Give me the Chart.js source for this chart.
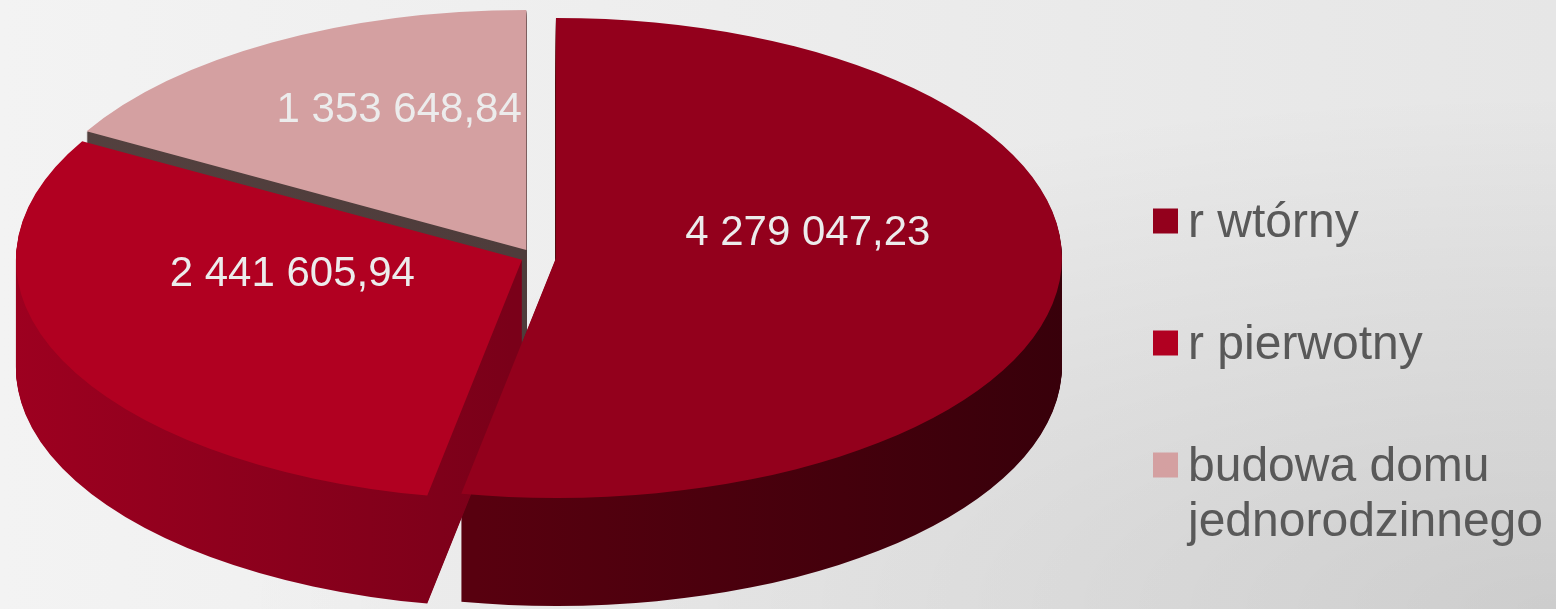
<!DOCTYPE html>
<html><head><meta charset="utf-8">
<script src="https://cdn.jsdelivr.net/npm/chart.js@4.4.1/dist/chart.umd.min.js"></script>
<style>
html,body{margin:0;padding:0;width:1556px;height:609px;overflow:hidden;
background:
 radial-gradient(ellipse farthest-corner at 100% 100%, rgba(0,0,0,0.11) 0%, rgba(0,0,0,0) 60%),
 linear-gradient(to right, #f3f3f3, #e6e6e6);}
#wrap{position:relative;width:1556px;height:609px;}
canvas{display:block;}
</style></head><body>
<div id="wrap"><canvas id="c" width="1556" height="609"></canvas></div>
<script>
// ---- data ----
const categories = ['r wtórny', 'r pierwotny', 'budowa domu jednorodzinnego'];
const values = [4279047.23, 2441605.94, 1353648.84];

// ---- style ----
const topColors = ['#93001c', '#b10021', '#d4a0a1'];
const wallLeft  = ['#58000f', '#9e0020', '#54413f'];
const wallRight = ['#37000a', '#7a0019', '#4e3c3b'];
const explodeDist = [10.4, 7.1, 8.5];      // chart units, along each slice's mid angle
const wallOrder = [2, 0, 1];               // back to front
const VIEW = {cx: 535, cy: 257, rx: 506, ry: 240, depth: 108, labelLift: 36};
const R = 250;

function fmtPL(v) {
  const parts = v.toFixed(2).split('.');
  return parts[0].replace(/\B(?=(\d{3})+(?!\d))/g, ' ') + ',' + parts[1];
}

const pie3d = {
  id: 'pie3d',
  beforeDatasetsDraw(chart) {
    const ctx = chart.ctx;
    const meta = chart.getDatasetMeta(0);
    const el0 = meta.data[0];
    const Rr = el0.outerRadius;
    const sx = VIEW.rx / Rr, sy = VIEW.ry / Rr;
    const toChartX = X => el0.x + (X - VIEW.cx) / sx;
    const shiftOf = i => {
      const el = meta.data[i];
      const mid = (el.startAngle + el.endAngle) / 2;
      return [Math.cos(mid) * explodeDist[i], Math.sin(mid) * explodeDist[i]];
    };
    ctx.save();
    ctx.translate(VIEW.cx, VIEW.cy);
    ctx.scale(sx, sy);
    ctx.translate(-el0.x, -el0.y);
    // walls (extrusion)
    wallOrder.forEach(i => {
      const el = meta.data[i];
      const saved = el.options;
      const g = ctx.createLinearGradient(toChartX(i === 0 ? 455 : 15), 0, toChartX(i === 0 ? 1062 : 525), 0);
      g.addColorStop(0, wallLeft[i]);
      g.addColorStop(1, wallRight[i]);
      el.options = Object.assign({}, saved, {backgroundColor: g, borderWidth: 0, offset: 0});
      const [dx, dy] = shiftOf(i);
      for (let d = VIEW.depth; d >= 1; d--) {
        ctx.save();
        ctx.translate(dx, dy + d / sy);
        el.draw(ctx);
        ctx.restore();
      }
      el.options = saved;
    });
    // top faces
    meta.data.forEach((el, i) => {
      const [dx, dy] = shiftOf(i);
      ctx.save();
      ctx.translate(dx, dy);
      el.draw(ctx);
      ctx.restore();
    });
    ctx.restore();
    // value labels
    ctx.save();
    ctx.font = '42px "Liberation Sans", Arial, sans-serif';
    ctx.fillStyle = '#ececec';
    ctx.textAlign = 'center';
    ctx.textBaseline = 'middle';
    meta.data.forEach((el, i) => {
      const mid = (el.startAngle + el.endAngle) / 2;
      const [dx, dy] = shiftOf(i);
      const px = el.x + dx + Math.cos(mid) * Rr * 0.5;
      const py = el.y + dy + Math.sin(mid) * Rr * 0.5;
      const X = VIEW.cx + (px - el0.x) * sx;
      const Y = VIEW.cy + (py - el0.y) * sy - VIEW.labelLift;
      ctx.fillText(fmtPL(chart.data.datasets[0].data[i]), X, Y);
    });
    ctx.restore();
    return false;
  },
  afterDraw(chart) {
    const ctx = chart.ctx;
    const labels = chart.data.labels;
    const colors = chart.data.datasets[0].backgroundColor;
    const boxX = 1153, box = 25, textX = 1188, firstY = 221, step = 122, lineH = 55, maxW = 365;
    ctx.save();
    ctx.font = '48px "Liberation Sans", Arial, sans-serif';
    ctx.textAlign = 'left';
    ctx.textBaseline = 'alphabetic';
    let y = firstY;
    labels.forEach((lab, i) => {
      ctx.fillStyle = colors[i];
      ctx.fillRect(boxX, y - box / 2, box, box);
      const words = lab.split(' ');
      const lines = [];
      let cur = '';
      words.forEach(w => {
        const t = cur ? cur + ' ' + w : w;
        if (ctx.measureText(t).width > maxW && cur) { lines.push(cur); cur = w; } else cur = t;
      });
      if (cur) lines.push(cur);
      ctx.fillStyle = '#595959';
      lines.forEach((ln, k) => ctx.fillText(ln, textX, y + 16 + k * lineH));
      y += step;
    });
    ctx.restore();
  }
};

new Chart(document.getElementById('c'), {
  type: 'pie',
  data: {
    labels: categories,
    datasets: [{
      data: values,
      backgroundColor: topColors,
      borderWidth: 0,
      offset: 0,
      clip: false
    }]
  },
  options: {
    responsive: false,
    animation: false,
    events: [],
    radius: R,
    layout: {padding: 0},
    plugins: {legend: {display: false}, tooltip: {enabled: false}}
  },
  plugins: [pie3d]
});
</script>
</body></html>
